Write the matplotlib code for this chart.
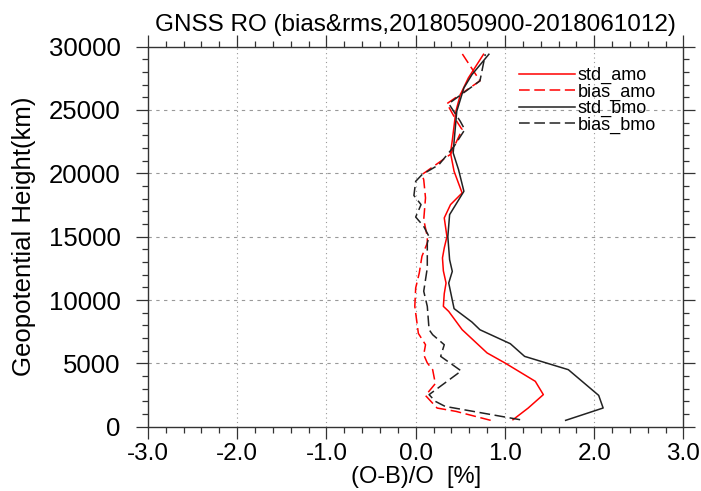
import matplotlib
matplotlib.use("Agg")
import matplotlib.pyplot as plt
from matplotlib.ticker import MultipleLocator, FormatStrFormatter

plt.rcParams['font.family'] = ['Liberation Sans', 'DejaVu Sans']

# profiles (height in m, value in %)
std_amo_h = [550, 1470, 2530, 3580, 5030, 5820, 7660, 9100, 9500, 10500, 11340, 12300,
             13320, 14110, 15000, 16480, 17530, 18450, 20160, 21610, 22600, 24890,
             26210, 27530, 29400]
std_amo_x = [1.09, 1.26, 1.43, 1.34, 1.00, 0.80, 0.52, 0.37, 0.31, 0.32, 0.34, 0.31,
             0.30, 0.32, 0.35, 0.32, 0.39, 0.52, 0.43, 0.39, 0.41, 0.45,
             0.50, 0.59, 0.76]

bias_amo_h = [500, 1210, 1470, 2460, 3400, 4500, 5030, 5680, 6470, 7360, 9500, 10950,
              12130, 13450, 14500, 15000, 16340, 18060, 19500, 19900, 21500, 23450,
              24100, 25500, 27300, 29450]
bias_amo_x = [0.84, 0.45, 0.24, 0.11, 0.22, 0.19, 0.13, 0.09, 0.11, 0.03, -0.01, 0.00,
              0.04, 0.07, 0.13, 0.13, 0.09, 0.11, 0.09, 0.07, 0.39, 0.52,
              0.46, 0.35, 0.72, 0.52]

std_bmo_h = [500, 1475, 2470, 4500, 5550, 6550, 7650, 8260, 9320, 11340, 12260, 13180,
             15000, 16740, 18580, 20290, 21610, 22500, 24890, 26740, 27790, 29400]
std_bmo_x = [1.68, 2.10, 2.05, 1.71, 1.22, 1.06, 0.72, 0.63, 0.43, 0.37, 0.41, 0.38,
             0.36, 0.38, 0.54, 0.48, 0.42, 0.43, 0.46, 0.54, 0.63, 0.82]

bias_bmo_h = [550, 1600, 2000, 2530, 4400, 5550, 6470, 7260, 7660, 9500, 10690, 12530,
              14500, 15000, 15810, 16550, 17530, 18250, 19370, 19890, 20680, 22130,
              23450, 24100, 25500, 27300, 29400]
bias_bmo_x = [1.17, 0.33, 0.22, 0.15, 0.51, 0.28, 0.32, 0.19, 0.15, 0.13, 0.09, 0.13,
              0.13, 0.15, 0.09, 0.00, 0.06, -0.02, 0.00, 0.07, 0.26, 0.43,
              0.55, 0.50, 0.37, 0.72, 0.78]

fig = plt.figure(figsize=(7.01, 4.91), dpi=100)
ax = fig.add_axes([0.211, 0.131, 0.764, 0.774])

lw = 1.1
ax.plot(std_amo_x, std_amo_h, color='red', lw=lw, label='std_amo')
ax.plot(bias_amo_x, bias_amo_h, color='red', lw=lw, dashes=(7, 3), label='bias_amo')
ax.plot(std_bmo_x, std_bmo_h, color='#222222', lw=lw, label='std_bmo')
ax.plot(bias_bmo_x, bias_bmo_h, color='#222222', lw=lw, dashes=(7, 3), label='bias_bmo')

# grid: dotted verticals, dashed horizontals
for xv in [-2, -1, 0, 1, 2]:
    ax.axvline(xv, color='#999999', lw=0.8, ls=(0, (1, 3)), zorder=0)
for yv in [5000, 10000, 15000, 20000, 25000]:
    ax.axhline(yv, color='#999999', lw=0.8, ls=(0, (3, 4)), zorder=0)

ax.set_xlim(-3, 3)
ax.set_ylim(0, 30000)
ax.xaxis.set_major_locator(MultipleLocator(1))
ax.xaxis.set_minor_locator(MultipleLocator(0.2))
ax.xaxis.set_major_formatter(FormatStrFormatter('%.1f'))
ax.yaxis.set_major_locator(MultipleLocator(5000))
ax.yaxis.set_minor_locator(MultipleLocator(1000))
ax.tick_params(which='both', direction='out', top=True, right=True, width=0.9,
               color='#333333')
ax.tick_params(which='major', length=8.5, labelsize=17.5)
ax.tick_params(axis='x', which='major', pad=3)
ax.tick_params(axis='y', which='major', pad=11, labelsize=18.5)
ax.tick_params(which='minor', length=4)
for s in ax.spines.values():
    s.set_linewidth(1.0)
    s.set_color('#333333')

ax.set_title('GNSS RO (bias&rms,2018050900-2018061012)', fontsize=17.5, pad=11)
ax.set_xlabel('(O-B)/O  [%]', fontsize=17, labelpad=1)
ax.set_ylabel('Geopotential Height(km)', fontsize=18.5, labelpad=9)

ax.legend(loc='upper left', bbox_to_anchor=(0.676, 0.97), frameon=False, fontsize=13,
          handlelength=3.1, handletextpad=0.15, labelspacing=-0.04, borderpad=0)

fig.savefig('out.png', dpi=100)
